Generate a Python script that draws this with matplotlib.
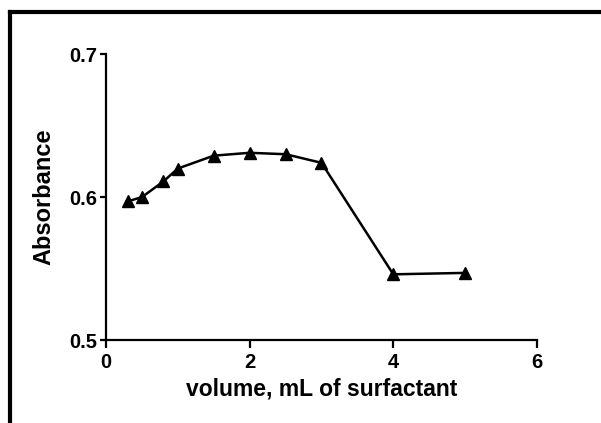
import matplotlib
matplotlib.use("Agg")
import matplotlib.pyplot as plt
from matplotlib.lines import Line2D

volume = [0.3, 0.5, 0.8, 1.0, 1.5, 2.0, 2.5, 3.0, 4.0, 5.0]
absorbance = [0.597, 0.600, 0.611, 0.620, 0.629, 0.631, 0.630, 0.624, 0.546, 0.547]
xticks = [0, 2, 4, 6]
yticks = [0.5, 0.6, 0.7]

plt.rcParams['font.family'] = ['Liberation Sans', 'DejaVu Sans']
fig = plt.figure(figsize=(6.01, 4.23), dpi=100)
ax = fig.add_axes([0.1764, 0.196, 0.717, 0.676])
ax.plot(volume, absorbance, color='black', lw=1.8, marker='^', markersize=8.5,
        markerfacecolor='black', markeredgecolor='black', clip_on=False)
ax.set_xlim(0, 6)
ax.set_ylim(0.5, 0.7)
ax.set_xticks(xticks)
ax.set_yticks(yticks)
ax.set_xticklabels([str(t) for t in xticks])
ax.set_yticklabels([f"{t:.1f}" for t in yticks])
for s in ['top', 'right']:
    ax.spines[s].set_visible(False)
for s in ['left', 'bottom']:
    ax.spines[s].set_linewidth(1.6)
ax.tick_params(axis='x', width=1.6, length=6, labelsize=14.5, direction='out', pad=3)
ax.tick_params(axis='y', width=1.6, length=4, labelsize=14.5, direction='out', pad=2)
for lbl in ax.get_xticklabels() + ax.get_yticklabels():
    lbl.set_fontweight('bold')
ax.set_xlabel('volume, mL of surfactant', fontsize=16.5, fontweight='bold', labelpad=4)
ax.set_ylabel('Absorbance', fontsize=17, fontweight='bold', labelpad=10)

# outer frame (top and left visible, continues beyond image)
fig.add_artist(Line2D([10/601, 1.0], [1 - 12/423, 1 - 12/423], color='black', lw=3,
                      solid_capstyle='projecting', transform=fig.transFigure))
fig.add_artist(Line2D([10/601, 10/601], [0.0, 1 - 12/423], color='black', lw=3,
                      solid_capstyle='projecting', transform=fig.transFigure))

fig.savefig('out.png', dpi=100)
